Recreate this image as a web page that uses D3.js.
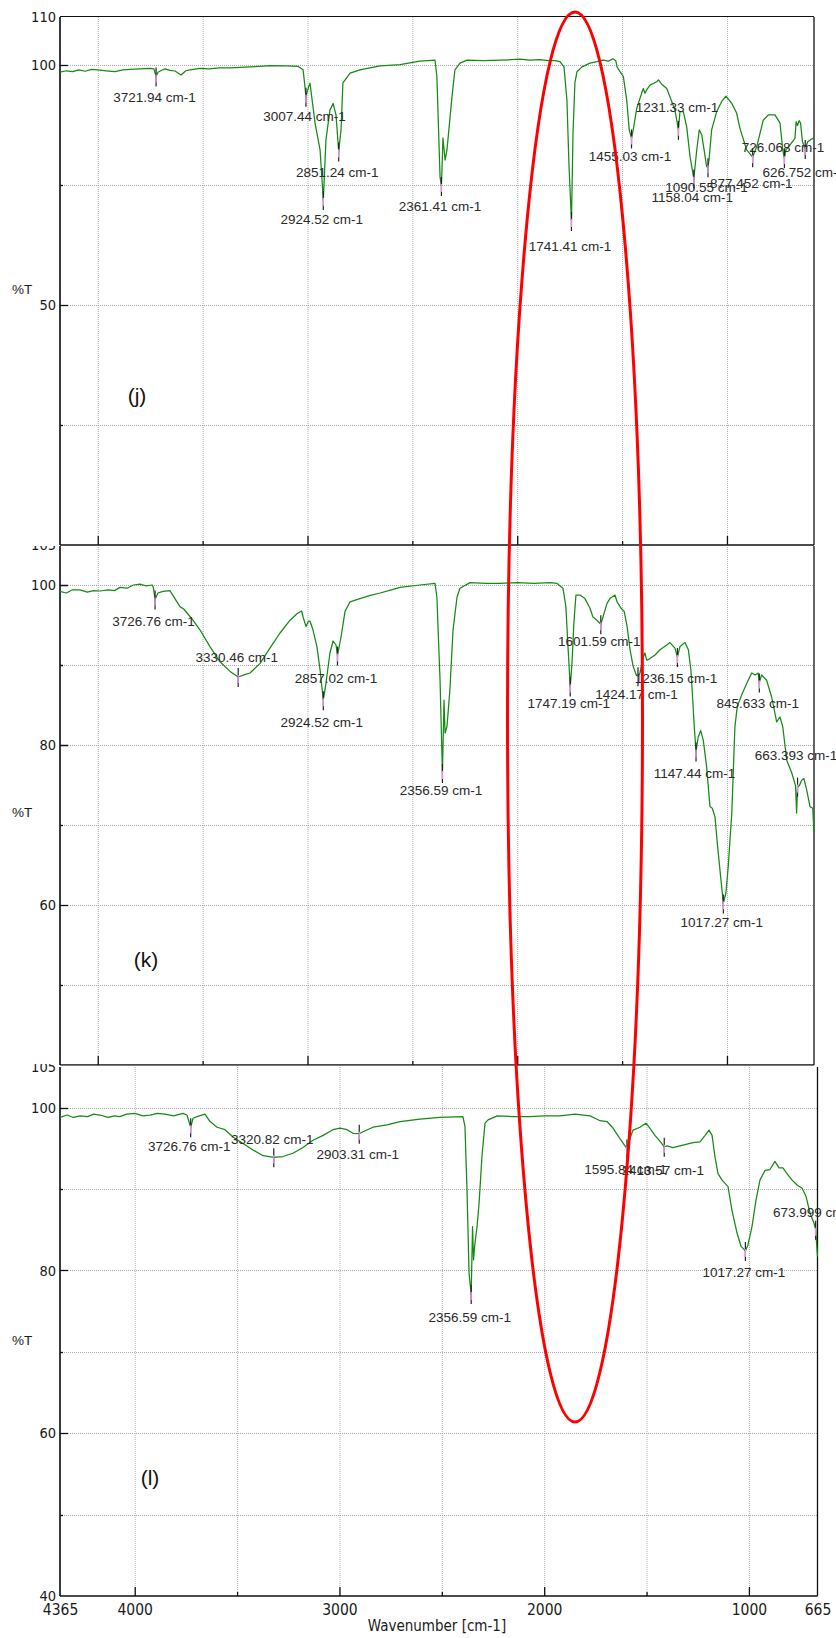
<!DOCTYPE html>
<html>
<head>
<meta charset="utf-8">
<script src="https://cdn.jsdelivr.net/npm/d3@7"></script>
<style>
  html, body { margin: 0; padding: 0; background: #fff; }
  svg { display: block; }
</style>
</head>
<body>
<svg id="chart" width="836" height="1638"></svg>
<script>
// ---- FTIR spectra: [wavenumber (cm-1), transmittance (%T)] ----
const specJ = [
  [4180,98.5],[4150,98.8],[4120,98.6],[4090,99.0],[4060,98.7],[4030,99.1],[3999,99.0],[3960,98.8],
  [3918,98.6],[3880,99.0],[3846,99.1],[3800,99.2],[3751,99.3],[3732,99.2],[3721.94,97.6],[3713,98.5],
  [3695,98.9],[3679,99.2],[3655,98.9],[3632,98.75],[3603,97.9],[3580,98.8],[3560,99.0],[3513,99.3],
  [3470,99.2],[3420,99.4],[3369,99.4],[3320,99.5],[3274,99.6],[3230,99.7],[3179,99.85],[3100,99.8],
  [3045,99.7],[3021,99.0],[3012,95.5],[3007.44,93.4],[2995,95.4],[2988,96.2],[2964,87.9],[2940,82.3],
  [2924.52,71.9],[2912,84.4],[2893,90.6],[2878,92.0],[2864,89.6],[2851.24,82.0],[2840,86.5],[2831,96.3],
  [2797,98.3],[2750,99.0],[2654,99.8],[2559,100.1],[2464,100.8],[2392,101.0],[2383,97.6],[2368,76.7],
  [2361.41,74.8],[2354,84.8],[2344,80.2],[2335,82.3],[2311,93.4],[2297,99.0],[2273,100.4],[2240,101.0],
  [2160,100.9],[2082,101.0],[2030,101.1],[1987,101.2],[1940,101.0],[1891,101.1],[1850,100.9],[1820,100.9],
  [1796,100.7],[1777,99.6],[1763,92.7],[1753,78.8],[1741.41,67.5],[1734,85.8],[1725,96.3],[1715,98.6],
  [1691,99.6],[1653,100.4],[1620,100.7],[1591,101.0],[1565,100.8],[1543,101.3],[1530,100.9],[1524,99.6],
  [1510,98.6],[1494,97.6],[1478,92.7],[1466,86.5],[1455.03,84.7],[1447,86.5],[1430,91.0],[1407,94.1],
  [1399,95.1],[1391,94.1],[1383,94.8],[1367,95.8],[1335,96.5],[1327,96.9],[1311,96.0],[1287,95.1],
  [1272,93.4],[1248,90.6],[1231.33,86.5],[1224,90.3],[1208,90.3],[1192,87.1],[1176,80.9],[1158.04,76.3],
  [1144,82.3],[1132,86.5],[1120,85.4],[1109,82.3],[1097,78.8],[1090.55,78.7],[1085,80.5],[1073,86.5],
  [1049,90.3],[1025,92.4],[1005,93.5],[977,92.0],[954,90.0],[938,86.8],[906,82.3],[877.452,80.8],
  [858,83.0],[827,88.5],[803,89.6],[771,89.6],[747,87.9],[734,82.3],[726.068,80.6],[719,82.3],
  [700,83.3],[676,84.7],[670,88.2],[664,87.4],[656,88.4],[649,87.9],[640,84.0],[626.752,82.5],
  [615,84.0],[600,84.5],[588,84.7],[585,84.8]
];

const specK = [
  [4180,99.2],[4150,99.0],[4120,99.4],[4085,99.4],[4050,99.1],[4020,99.3],[3989,99.25],[3950,99.4],
  [3920,99.3],[3894,99.7],[3860,99.6],[3830,100.0],[3799,100.1],[3770,99.9],[3741,100.0],[3735,99.7],
  [3726.76,98.2],[3713,99.0],[3689,99.2],[3656,99.3],[3632,98.3],[3608,97.3],[3590,97.0],[3574,96.5],
  [3546,95.6],[3513,94.4],[3465,92.3],[3417,90.4],[3369,89.2],[3330.46,88.5],[3300,88.8],[3274,89.0],
  [3226,90.2],[3179,92.1],[3131,94.0],[3083,95.6],[3050,96.4],[3028,96.75],[3021,96.0],[3007,94.8],
  [2995,95.5],[2988,95.5],[2974,94.4],[2955,92.3],[2940,89.4],[2924.52,85.6],[2912,87.7],[2893,91.5],
  [2878,93.0],[2864,92.5],[2857.02,91.2],[2840,93.5],[2821,96.7],[2797,97.9],[2750,98.3],[2700,98.7],
  [2654,99.0],[2600,99.4],[2559,99.7],[2464,100.0],[2392,100.2],[2383,98.5],[2368,88.1],[2356.59,76.5],
  [2349,85.6],[2344,81.5],[2335,82.3],[2321,86.9],[2306,94.4],[2287,98.5],[2273,99.6],[2225,100.3],
  [2150,100.2],[2082,100.2],[2000,100.3],[1920,100.2],[1844,100.3],[1810,100.2],[1782,99.6],[1768,97.3],
  [1758,92.3],[1747.19,87.3],[1739,90.2],[1730,95.2],[1720,98.75],[1701,98.75],[1677,98.3],[1653,97.1],
  [1639,96.0],[1620,95.6],[1601.59,95.1],[1591,96.0],[1572,97.7],[1558,98.3],[1534,98.75],[1524,97.9],
  [1505,97.1],[1490,96.7],[1476,94.8],[1462,91.9],[1447,89.8],[1432,88.75],[1424.17,88.6],[1415,89.0],
  [1399,91.0],[1391,91.5],[1383,90.6],[1367,90.8],[1343,91.25],[1319,91.9],[1287,92.5],[1272,92.8],
  [1248,92.1],[1236.15,91.0],[1224,92.3],[1200,92.8],[1184,91.9],[1172,89.4],[1163,85.6],[1156,82.3],
  [1147.44,79.2],[1137,81.0],[1125,81.8],[1113,80.6],[1097,77.3],[1081,72.3],[1070,72.1],[1057,71.0],
  [1046,67.7],[1030,63.5],[1017.27,60.2],[1005,61.5],[994,64.8],[977,71.5],[962,82.3],[951,84.8],
  [930,86.25],[906,87.7],[882,89.0],[866,88.75],[851,89.0],[845.633,87.8],[835,88.75],[811,88.1],
  [787,86.0],[763,82.9],[747,83.5],[734,82.3],[715,78.1],[691,76.5],[673,74.9],[668,71.5],
  [663.393,74.8],[655,74.9],[644,75.6],[633,75.8],[620,74.4],[604,72.3],[591,72.1],[585,69.0]
];

const specL = [
  [4365,98.8],[4330,99.1],[4300,98.8],[4267,99.0],[4230,98.9],[4200,99.2],[4170,99.1],[4130,98.8],
  [4100,99.0],[4072,98.9],[4040,99.2],[3999,99.3],[3960,99.0],[3925,99.1],[3890,99.3],[3852,99.2],
  [3810,99.0],[3764,99.3],[3745,99.1],[3726.76,97.6],[3715,98.7],[3696,98.9],[3657,99.2],[3632,98.3],
  [3598,97.6],[3559,97.3],[3520,96.4],[3471,95.6],[3422,94.8],[3373,94.1],[3320.82,93.9],[3276,94.0],
  [3227,94.4],[3178,95.1],[3129,96.0],[3080,96.6],[3032,97.3],[2997,97.5],[2963,97.3],[2934,96.85],
  [2903.31,96.8],[2885,97.05],[2836,97.6],[2768,97.9],[2704,98.3],[2607,98.6],[2509,98.8],[2397,98.9],
  [2387,97.7],[2377,89.9],[2367,79.65],[2356.59,77.1],[2350,85.4],[2345,81.3],[2340,82.9],[2328,85.4],
  [2318,88.25],[2304,94.0],[2289,98.1],[2274,98.5],[2230,99.0],[2150,98.9],[2069,98.9],[2000,99.0],
  [1923,99.0],[1850,99.2],[1776,99.0],[1752,98.7],[1727,98.4],[1693,98.3],[1664,97.5],[1630,96.2],
  [1605,95.3],[1595.84,95.0],[1581,96.2],[1566,97.25],[1532,97.6],[1503,98.1],[1484,97.5],[1459,96.6],
  [1435,95.9],[1413.57,95.2],[1400,95.3],[1371,95.1],[1322,95.4],[1273,95.7],[1239,95.8],[1214,96.6],
  [1195,97.25],[1180,96.6],[1166,94.0],[1151,91.9],[1131,91.1],[1102,90.3],[1083,87.4],[1058,84.6],
  [1039,83.0],[1017.27,82.4],[1005,83.1],[985,85.4],[965,88.7],[946,91.1],[921,92.3],[897,92.4],
  [873,93.4],[853,92.6],[834,92.6],[814,91.9],[789,91.1],[765,90.5],[740,90.1],[721,89.1],
  [701,87.0],[682,85.8],[673.999,85.0],[665,81.7]
];

// ---- picked peaks: [wavenumber, %T at the marker] ----
const peaksJ = [[3721.94,97.6],[3007.44,93.4],[2924.52,71.9],[2851.24,82.0],[2361.41,74.8],[1741.41,67.5],
  [1455.03,84.7],[1231.33,86.5],[1158.04,76.3],[1090.55,78.7],[877.452,80.8],[726.068,80.6],[626.752,82.5]];
const peaksK = [[3726.76,98.2],[3330.46,88.5],[2924.52,85.6],[2857.02,91.2],[2356.59,76.5],[1747.19,87.3],
  [1601.59,95.1],[1424.17,88.6],[1236.15,91.0],[1147.44,79.2],[1017.27,60.2],[845.633,87.8],[663.393,74.8]];
const peaksL = [[3726.76,97.6],[3320.82,93.9],[2903.31,96.8],[2356.59,77.1],[1595.84,95.0],[1413.57,95.2],
  [1017.27,82.4],[673.999,85.0]];

// vertical placement of each peak label relative to its marker (px)
const labelDyJ = [21,19,19,21,20,25,18,-23,18,20,26,-11,23];
const labelDyK = [22,-20,22,23,17,17,17,18,21,22,19,21,-31];
const labelDyL = [19,-18,20,23,21,23,21,-18];

// tick labels
const yLabelsJ = [110,100,50];
const yLabelsK = [105,100,80,60];
const yLabelsL = [105,100,80,60,40];
const xLabelsL = [4365,4000,3000,2000,1000,665];

const W = 836, H = 1638;
const svg = d3.select('#chart');
const defs = svg.append('defs');

const NARROW = "'Liberation Sans Narrow','Arial Narrow','DejaVu Sans Condensed',sans-serif";
const SANS = "'Liberation Sans',Arial,Helvetica,sans-serif";
const GREEN = '#158a15';

const panels = [
  { key:'j', spec:specJ, peaks:peaksJ, dy:labelDyJ, yLabels:yLabelsJ,
    xd:[4180,585], xr:[60,814], yd:[0,110], top:17, bottom:545, band:[0,546], frameTop:true,
    grid:[100,75,50,25], major:[100,50], tag:'(j)', tagXY:[137,395], pctY:289 },
  { key:'k', spec:specK, peaks:peaksK, dy:labelDyK, yLabels:yLabelsK,
    xd:[4180,585], xr:[60,814], yd:[40,105], top:545, bottom:1065, band:[546,1065.8], frameTop:false,
    grid:[100,90,80,70,60,50], major:[100,80,60], tag:'(k)', tagXY:[146,959], pctY:812 },
  { key:'l', spec:specL, peaks:peaksL, dy:labelDyL, yLabels:yLabelsL,
    xd:[4365,665], xr:[60,817.5], yd:[40,105], top:1067, bottom:1596, band:[1064,H], frameTop:false,
    grid:[100,90,80,70,60,50], major:[100,80,60], tag:'(l)', tagXY:[150,1477], pctY:1340, xAxis:true }
];

panels.forEach(p => {
  const x = d3.scaleLinear().domain(p.xd).range(p.xr);
  const y = d3.scaleLinear().domain(p.yd).range([p.bottom, p.top]);
  const [x0, x1] = p.xr;

  const cid = 'band-' + p.key;
  defs.append('clipPath').attr('id', cid)
    .append('rect').attr('x', 0).attr('y', p.band[0]).attr('width', W).attr('height', p.band[1] - p.band[0]);
  const g = svg.append('g').attr('clip-path', `url(#${cid})`);

  // dotted grid
  const vgrid = d3.range(4000, p.xd[1] - 1, -500);
  g.append('g').selectAll('line').data(vgrid).join('line')
    .attr('x1', d => x(d) + 0.5).attr('x2', d => x(d) + 0.5)
    .attr('y1', p.top).attr('y2', p.bottom)
    .attr('stroke', '#b0b0b0').attr('stroke-width', 1).attr('stroke-dasharray', '1,1');
  g.append('g').selectAll('line').data(p.grid).join('line')
    .attr('x1', x0).attr('x2', x1)
    .attr('y1', d => Math.round(y(d)) + 0.5).attr('y2', d => Math.round(y(d)) + 0.5)
    .attr('stroke', '#a8a8a8').attr('stroke-width', 1).attr('stroke-dasharray', '1,1');

  // frame
  if (p.frameTop) {
    g.append('line').attr('x1', x0).attr('x2', x1).attr('y1', p.top - 0.5).attr('y2', p.top - 0.5)
      .attr('stroke', '#111').attr('stroke-width', 1.2);
  }
  g.append('line').attr('x1', x1).attr('x2', x1).attr('y1', p.top).attr('y2', p.bottom)
    .attr('stroke', '#111').attr('stroke-width', 1.3);
  g.append('line').attr('x1', x0).attr('x2', x0).attr('y1', p.top).attr('y2', p.bottom)
    .attr('stroke', '#3a3a3a').attr('stroke-width', 2);
  g.append('line').attr('x1', x0).attr('x2', x1).attr('y1', p.bottom).attr('y2', p.bottom)
    .attr('stroke', '#111').attr('stroke-width', 1.6);

  // inward ticks on the bottom axis
  g.append('g').selectAll('line').data(vgrid).join('line')
    .attr('x1', d => x(d) + 0.5).attr('x2', d => x(d) + 0.5)
    .attr('y1', p.bottom).attr('y2', d => p.bottom - (d % 1000 === 0 ? 9 : 4))
    .attr('stroke', '#111').attr('stroke-width', 1.3);

  // inward ticks on the left axis
  g.append('g').selectAll('line').data(p.grid).join('line')
    .attr('x1', x0).attr('x2', d => x0 + (p.major.includes(d) ? 8 : 3))
    .attr('y1', d => Math.round(y(d)) + 0.5).attr('y2', d => Math.round(y(d)) + 0.5)
    .attr('stroke', '#111').attr('stroke-width', 1.3);

  // y tick labels
  g.append('g').selectAll('text').data(p.yLabels).join('text')
    .attr('x', 56).attr('y', d => y(d)).attr('dy', '0.36em')
    .attr('text-anchor', 'end')
    .style('font-family', NARROW).style('font-size', '14.5px').attr('fill', '#1a1a1a')
    .text(d => d);

  // %T axis title
  g.append('text').attr('x', 22).attr('y', p.pctY).attr('dy', '0.36em').attr('text-anchor', 'middle')
    .style('font-family', SANS).style('font-size', '13.5px').attr('fill', '#1a1a1a').text('%T');

  // spectrum
  const line = d3.line().x(d => x(d[0])).y(d => y(d[1]));
  g.append('path').datum(p.spec).attr('d', line)
    .attr('fill', 'none').attr('stroke', GREEN).attr('stroke-width', 1.25).attr('stroke-linejoin', 'round');

  // peak markers
  const mk = g.append('g');
  mk.selectAll('line.tick').data(p.peaks).join('line')
    .attr('x1', d => x(d[0])).attr('x2', d => x(d[0]))
    .attr('y1', d => y(d[1]) - 9).attr('y2', d => y(d[1]) + 10)
    .attr('stroke', '#222').attr('stroke-width', 1.2);
  mk.selectAll('line.pick').data(p.peaks).join('line')
    .attr('x1', d => x(d[0])).attr('x2', d => x(d[0]))
    .attr('y1', d => y(d[1]) - 2).attr('y2', d => y(d[1]) + 6)
    .attr('stroke', '#e48ee4').attr('stroke-width', 1.4);

  // peak labels
  g.append('g').selectAll('text').data(p.peaks).join('text')
    .attr('x', d => x(d[0]) - 1.5)
    .attr('y', (d, i) => y(d[1]) + p.dy[i]).attr('dy', '0.36em')
    .attr('text-anchor', 'middle')
    .style('font-family', SANS).style('font-size', '13.5px').attr('fill', '#2a2a2a')
    .text(d => `${d[0]} cm-1`);

  // panel tag
  g.append('text').attr('x', p.tagXY[0]).attr('y', p.tagXY[1]).attr('dy', '0.36em').attr('text-anchor', 'middle')
    .style('font-family', SANS).style('font-size', '21px').attr('fill', '#111').text(p.tag);

  // wavenumber axis labels on the bottom panel
  if (p.xAxis) {
    const ax = d3.axisBottom(x).tickValues(xLabelsL).tickSize(0).tickPadding(8).tickFormat(d3.format('d'));
    const ag = g.append('g').attr('transform', `translate(0,${p.bottom})`).call(ax);
    ag.select('.domain').remove();
    ag.selectAll('text').style('font-family', NARROW).style('font-size', '15.5px').attr('fill', '#1a1a1a');
    g.append('text').attr('x', 437).attr('y', 1631).attr('text-anchor', 'middle')
      .style('font-family', NARROW).style('font-size', '15px').attr('fill', '#1a1a1a')
      .text('Wavenumber [cm-1]');
  }
});

// highlight ellipse over the carbonyl region
svg.append('ellipse')
  .attr('cx', 575).attr('cy', 717).attr('rx', 67.5).attr('ry', 705)
  .attr('fill', 'none').attr('stroke', '#ff0000').attr('stroke-width', 3);
</script>
</body>
</html>
